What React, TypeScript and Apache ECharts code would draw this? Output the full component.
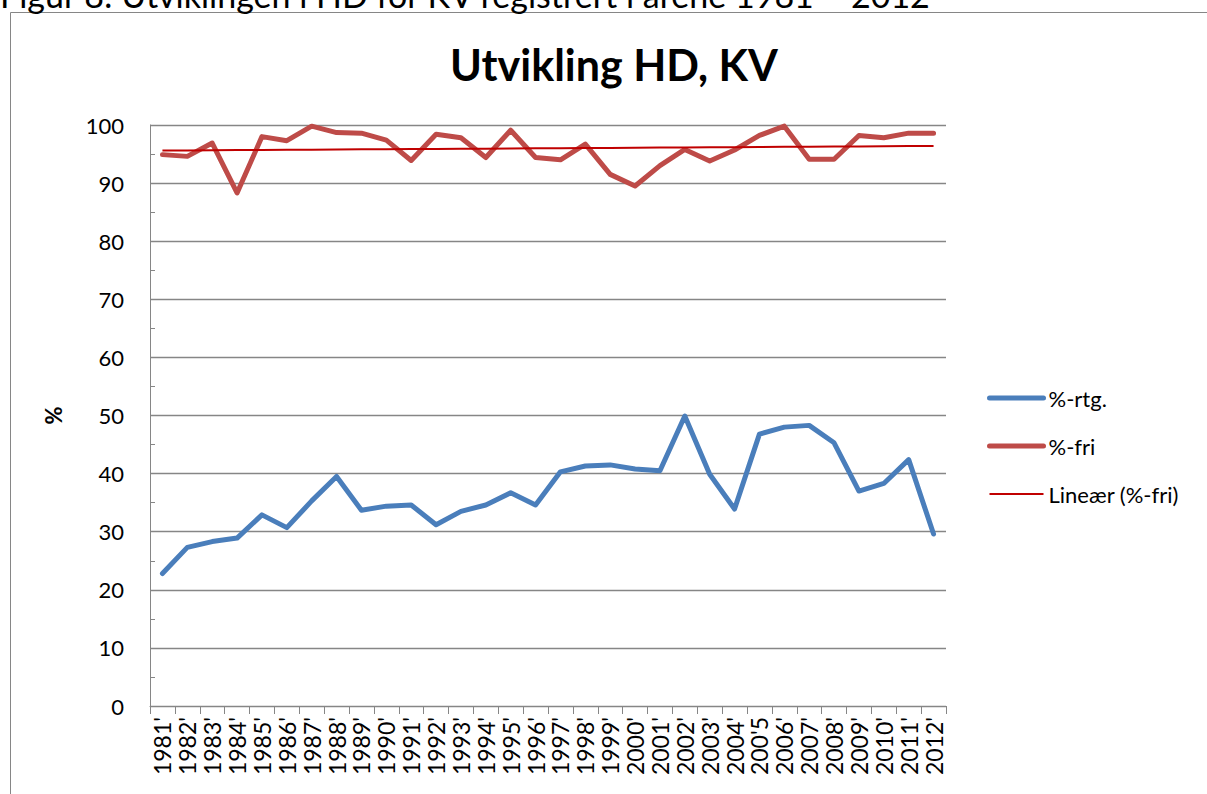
import React, { useEffect, useRef } from "react";
import * as echarts from "echarts";

const years: string[] = [
  "1981'", "1982'", "1983'", "1984'", "1985'", "1986'", "1987'", "1988'",
  "1989'", "1990'", "1991'", "1992'", "1993'", "1994'", "1995'", "1996'",
  "1997'", "1998'", "1999'", "2000'", "2001'", "2002'", "2003'", "2004'",
  "200'5", "2006'", "2007'", "2008'", "2009'", "2010'", "2011'", "2012'",
];

const rtg: number[] = [
  22.8, 27.3, 28.3, 28.9, 32.9, 30.7, 35.3, 39.5,
  33.7, 34.4, 34.6, 31.2, 33.5, 34.6, 36.7, 34.6,
  40.3, 41.3, 41.5, 40.8, 40.5, 49.9, 39.9, 33.9,
  46.8, 48.0, 48.3, 45.3, 37.0, 38.3, 42.4, 29.6,
];

const fri: number[] = [
  94.9, 94.6, 96.9, 88.3, 98.0, 97.3, 99.8, 98.7,
  98.6, 97.4, 93.9, 98.4, 97.8, 94.4, 99.1, 94.4,
  94.0, 96.7, 91.5, 89.5, 93.0, 95.8, 93.8, 95.7,
  98.2, 99.8, 94.1, 94.1, 98.2, 97.8, 98.6, 98.6,
];

const seriesNames: string[] = ["%-rtg.", "%-fri", "Lineær (%-fri)"];
const chartTitle = "Utvikling HD, KV";
const caption = "Figur 8: Utviklingen i HD for KV registrert i årene 1981 – 2012";

// Excel-style linear trendline (least squares) of the %-fri series
function linearTrend(values: number[]): number[] {
  const n = values.length;
  let sx = 0, sy = 0, sxx = 0, sxy = 0;
  values.forEach((v, i) => {
    const x = i + 1;
    sx += x; sy += v; sxx += x * x; sxy += x * v;
  });
  const b = (n * sxy - sx * sy) / (n * sxx - sx * sx);
  const a = (sy - b * sx) / n;
  return values.map((_, i) => +(a + b * (i + 1)).toFixed(3));
}

const FONT = "Lato";
const AXIS = "#868686";

export default function App() {
  const ref = useRef<HTMLDivElement>(null);

  useEffect(() => {
    document.body.style.margin = "0";
    if (!ref.current) return;
    const chart = echarts.init(ref.current, undefined, { renderer: "svg" });
    const trend = linearTrend(fri);

    chart.setOption({
      animation: false,
      backgroundColor: "#ffffff",
      textStyle: { fontFamily: FONT },
      graphic: [
        {
          type: "rect",
          silent: true,
          shape: { x: 10.5, y: 12.5, width: 1300, height: 900 },
          style: { fill: "none", stroke: AXIS, lineWidth: 1 },
        },
        {
          type: "text",
          x: 0,
          y: -6,
          style: {
            text: caption,
            font: `34px ${FONT}`,
            fill: "#000",
            align: "left",
            verticalAlign: "middle",
          },
        },
        {
          type: "text",
          x: 614,
          y: 64,
          style: {
            text: chartTitle,
            font: `bold 43px ${FONT}`,
            fill: "#000",
            align: "center",
            verticalAlign: "middle",
          },
        },
      ],
      legend: {
        orient: "vertical",
        left: 982,
        top: 382,
        itemWidth: 54,
        itemHeight: 14,
        itemGap: 26,
        itemStyle: { opacity: 0 },
        lineStyle: { width: "inherit" },
        textStyle: { fontFamily: FONT, fontSize: 22, color: "#000" },
        data: seriesNames,
      },
      grid: { left: 150, right: 261, top: 125, bottom: 88, containLabel: false },
      xAxis: {
        type: "category",
        data: years,
        boundaryGap: true,
        axisLine: { lineStyle: { color: AXIS, width: 1 } },
        axisTick: { show: true, length: 8, lineStyle: { color: AXIS } },
        axisLabel: {
          rotate: 90,
          margin: 11,
          interval: 0,
          fontFamily: FONT,
          fontSize: 23,
          color: "#000",
        },
        splitLine: { show: false },
      },
      yAxis: {
        type: "value",
        min: 0,
        max: 100,
        interval: 10,
        name: "%",
        nameLocation: "middle",
        nameGap: 86,
        nameTextStyle: { fontFamily: FONT, fontSize: 22, fontWeight: "bold", color: "#000" },
        axisLine: { show: true, lineStyle: { color: AXIS, width: 1 } },
        axisTick: { show: true, inside: true, length: 5, lineStyle: { color: AXIS } },
        minorTick: { show: true, splitNumber: 2, length: 5, lineStyle: { color: AXIS } },
        axisLabel: { margin: 26, fontFamily: FONT, fontSize: 22, color: "#000" },
        splitLine: { show: true, lineStyle: { color: AXIS, width: 1.3 } },
      },
      series: [
        {
          name: seriesNames[0],
          type: "line",
          data: rtg,
          symbol: "none",
          lineStyle: { color: "#4A7EBB", width: 5, cap: "round", join: "round" },
          itemStyle: { color: "#4A7EBB" },
          z: 2,
        },
        {
          name: seriesNames[1],
          type: "line",
          data: fri,
          symbol: "none",
          lineStyle: { color: "#BE4B48", width: 5, cap: "round", join: "round" },
          itemStyle: { color: "#BE4B48" },
          z: 3,
        },
        {
          name: seriesNames[2],
          type: "line",
          data: trend,
          symbol: "none",
          lineStyle: { color: "#C00000", width: 2 },
          itemStyle: { color: "#C00000" },
          z: 4,
        },
      ],
    });

    return () => chart.dispose();
  }, []);

  return <div ref={ref} style={{ width: 1207, height: 794 }} />;
}
